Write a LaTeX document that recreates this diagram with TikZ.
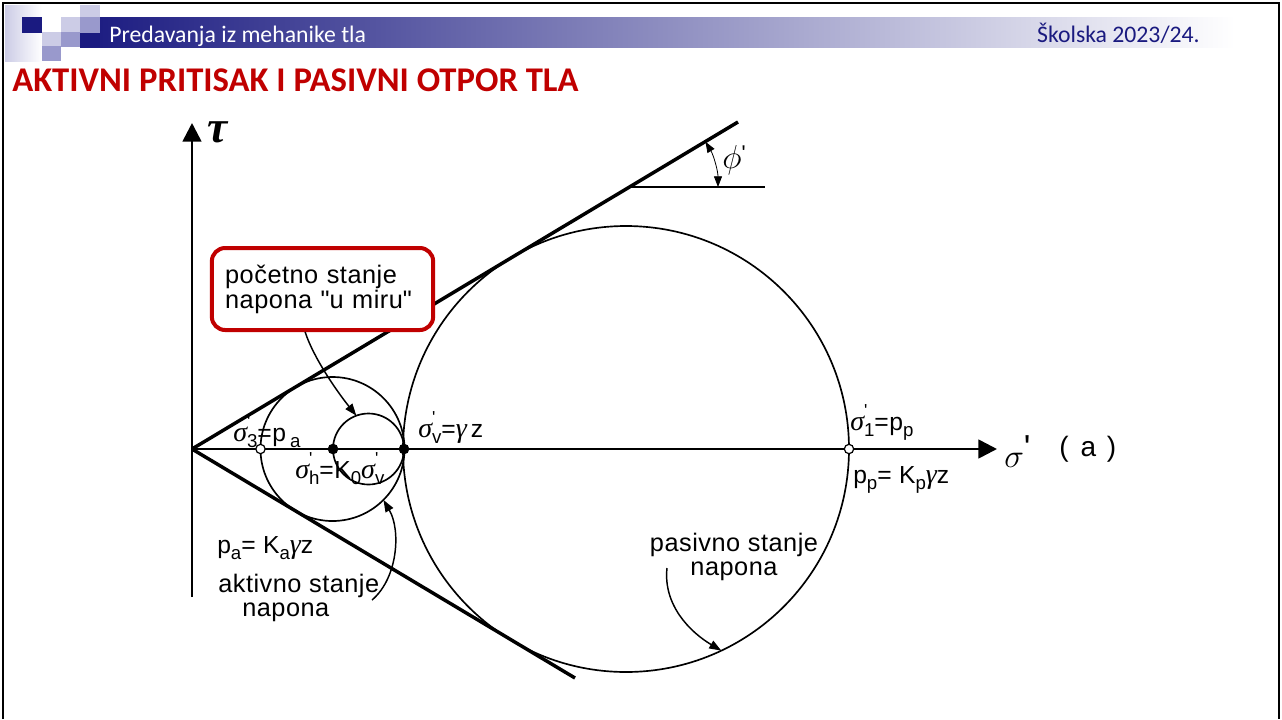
\documentclass[tikz,border=0pt]{standalone}
\usepackage{fontspec}
\setmainfont{Liberation Sans}
\newfontfamily\hdrfont{Carlito}
\newfontfamily\grkfont{Liberation Serif}
\usepackage{tikz}
\usetikzlibrary{arrows.meta, calc}
\definecolor{hdrN}{RGB}{26,26,128}
\definecolor{sqL}{RGB}{204,204,230}
\definecolor{sqM}{RGB}{153,153,204}
\definecolor{ttlR}{RGB}{192,0,0}
\newcommand{\gk}[1]{{\grkfont\itshape\fontsize{21}{21}\selectfont #1}}
\newcommand{\sub}[1]{\raisebox{-0.5ex}{\fontsize{14}{14}\selectfont #1}}
\newcommand{\sgp}[1]{\gk{σ}\rlap{\raisebox{1.05ex}{\fontsize{13}{13}\selectfont\textquotesingle}}\sub{#1}}

\begin{document}
\begin{tikzpicture}[x=0.75pt, y=-0.75pt,
  lbl/.style={font=\fontsize{19}{17.5}\selectfont\addfontfeature{LetterSpace=2}, inner sep=0pt},
  fml/.style={font=\fontsize{18.5}{20}\selectfont\addfontfeature{LetterSpace=2}, inner sep=0pt, anchor=base west},
  env/.style={line width=2.6pt},
  mohr/.style={line width=1.25pt},
  axis/.style={line width=2pt, -{Triangle[length=14pt,width=14pt]}},
  ptr/.style={line width=1.1pt, -{Triangle[length=9pt,width=6.5pt]}},
  opendot/.style={circle, draw, fill=white, line width=0.9pt, minimum size=7pt, inner sep=0pt},
  fulldot/.style={circle, fill, minimum size=8pt, inner sep=0pt}]
\useasboundingbox (0,0) rectangle (1282,719);
\fill[white] (0,0) rectangle (1282,719);
% slide header
\shade[left color=hdrN, right color=white] (80,17) rectangle (1235,47);
\shade[left color=sqL, right color=white] (5,5) rectangle (42,61);
\fill[hdrN] (22,17) rectangle (42,33);
\fill[sqL] (42,32) rectangle (61,46);
\fill[sqM] (42,46) rectangle (61,61);
\fill[sqL] (61,17) rectangle (80,32);
\fill[sqM] (61,32) rectangle (80,47);
\fill[sqL] (80,5) rectangle (100,17);
\fill[sqM] (80,17) rectangle (100,33);
\fill[hdrN] (80,33) rectangle (100,47);
\draw[line width=2.2pt] (3,719) -- (3,3) -- (1279,3) -- (1279,719);
\node[anchor=base west, inner sep=0pt, text=white, font=\hdrfont\fontsize{17.8}{20}\selectfont] (course) at (109,42) {Predavanja iz mehanike tla};
\node[anchor=base east, inner sep=0pt, text=hdrN, font=\hdrfont\fontsize{17.8}{20}\selectfont] (year) at (1200,42) {Školska 2023/24.};
\node[anchor=base west, inner sep=0pt, text=ttlR, font=\hdrfont\bfseries\fontsize{26}{30}\selectfont] (title) at (12,91) {AKTIVNI PRITISAK I PASIVNI OTPOR TLA};

% axes and envelopes
\coordinate (O) at (192,449);
\coordinate (tauT) at (192,123);
\coordinate (tauB) at (192,597);
\coordinate (sigT) at (997,449);
\coordinate (envU) at (738,122);
\coordinate (envL) at (575,678);
\coordinate (cP) at (626,449);
\coordinate (cA) at (332.5,449);
\coordinate (c0) at (368.5,449);
\draw[axis] (tauB) -- (tauT);
\draw[axis] (O) -- (sigT);
\draw[env] (O) -- (envU);
\draw[env] (O) -- (envL);
% Mohr circles
\draw[mohr] (cP) circle[radius=223];
\draw[mohr] (cA) circle[radius=72];
\draw[mohr] (c0) circle[radius=35.5];
\node[opendot] (s3) at (260.5,449) {};
\node[fulldot] (sh) at (333,449) {};
\node[fulldot] (sv) at (404,449) {};
\node[opendot] (s1) at (849,449) {};

% friction angle
\coordinate (phiO) at (630,187);
\coordinate (phiR) at (765,187);
\draw[line width=1.25pt] (phiO) -- (phiR);
\draw[line width=0.6pt, {Triangle[length=8pt,width=6pt]}-{Triangle[length=8pt,width=6pt]}] ($(phiO)+(-30.9:88)$) arc[start angle=-30.9, end angle=0, radius=88];
\node[font=\fontsize{24}{24}\selectfont] (phi) at (734,160) {$\phi$\raisebox{0.45ex}{\fontsize{16}{16}\selectfont\textquotesingle}};

% axis labels
\node[font=\grkfont\bfseries\itshape\fontsize{34}{34}\selectfont] (tau) at (218,132) {τ};
\node[anchor=west, inner sep=0pt, font=\fontsize{38}{38}\selectfont] (sig) at (1004,452) {$\sigma$\raisebox{0.3ex}{\fontsize{26}{26}\selectfont\textquotesingle}};
\node[anchor=west, inner sep=0pt, font=\fontsize{21}{21}\selectfont] (case) at (1059,449) {(\hspace{9pt}a\hspace{8pt})};

% stress labels
\node[fml] (s3lbl) at (233,441) {\sgp{3}=p\,\sub{a}};
\node[fml] (svlbl) at (418,437) {\sgp{v}=\gk{γ}\,z};
\node[fml] (shlbl) at (295,478) {\sgp{h}=K\sub{0}\sgp{v}};
\node[fml] (s1lbl) at (850,430) {\sgp{1}=p\sub{p}};
\node[fml] (pplbl) at (853,483) {p\sub{p}= K\sub{p}\gk{γ}z};
\node[fml] (palbl) at (217,553) {p\sub{a}= K\sub{a}\gk{γ}z};

% state labels
\node[lbl, draw=ttlR, line width=3pt, fill=white, rounded corners=10pt, align=left, text width=146pt, inner xsep=10pt, minimum height=61.5pt] (init) at (322.5,289) {početno stanje\\napona \textquotedbl u miru\textquotedbl};
\node[lbl, anchor=west, align=left] (act) at (218,598) {aktivno stanje\\\hspace*{18pt}napona};
\node[lbl, align=center] (pas) at (734,557) {pasivno stanje\\napona};

% pointers
\coordinate (c0top) at ($(c0)+(-110:35.5)$);
\coordinate (cAfoot) at ($(cA)+(45:72)$);
\coordinate (cPfoot) at ($(cP)+(64.7:223)$);
\coordinate (actTail) at (372,600);
\coordinate (pasTail) at (667,568);
\draw[ptr] ([xshift=-13pt]init.south) .. controls +(8,25) and +(-20,-25) .. (c0top);
\draw[ptr] (actTail) .. controls (398,578) and (401,530) .. (cAfoot);
\draw[ptr] (pasTail) .. controls (663,605) and (690,632) .. (cPfoot);
\end{tikzpicture}
\end{document}
